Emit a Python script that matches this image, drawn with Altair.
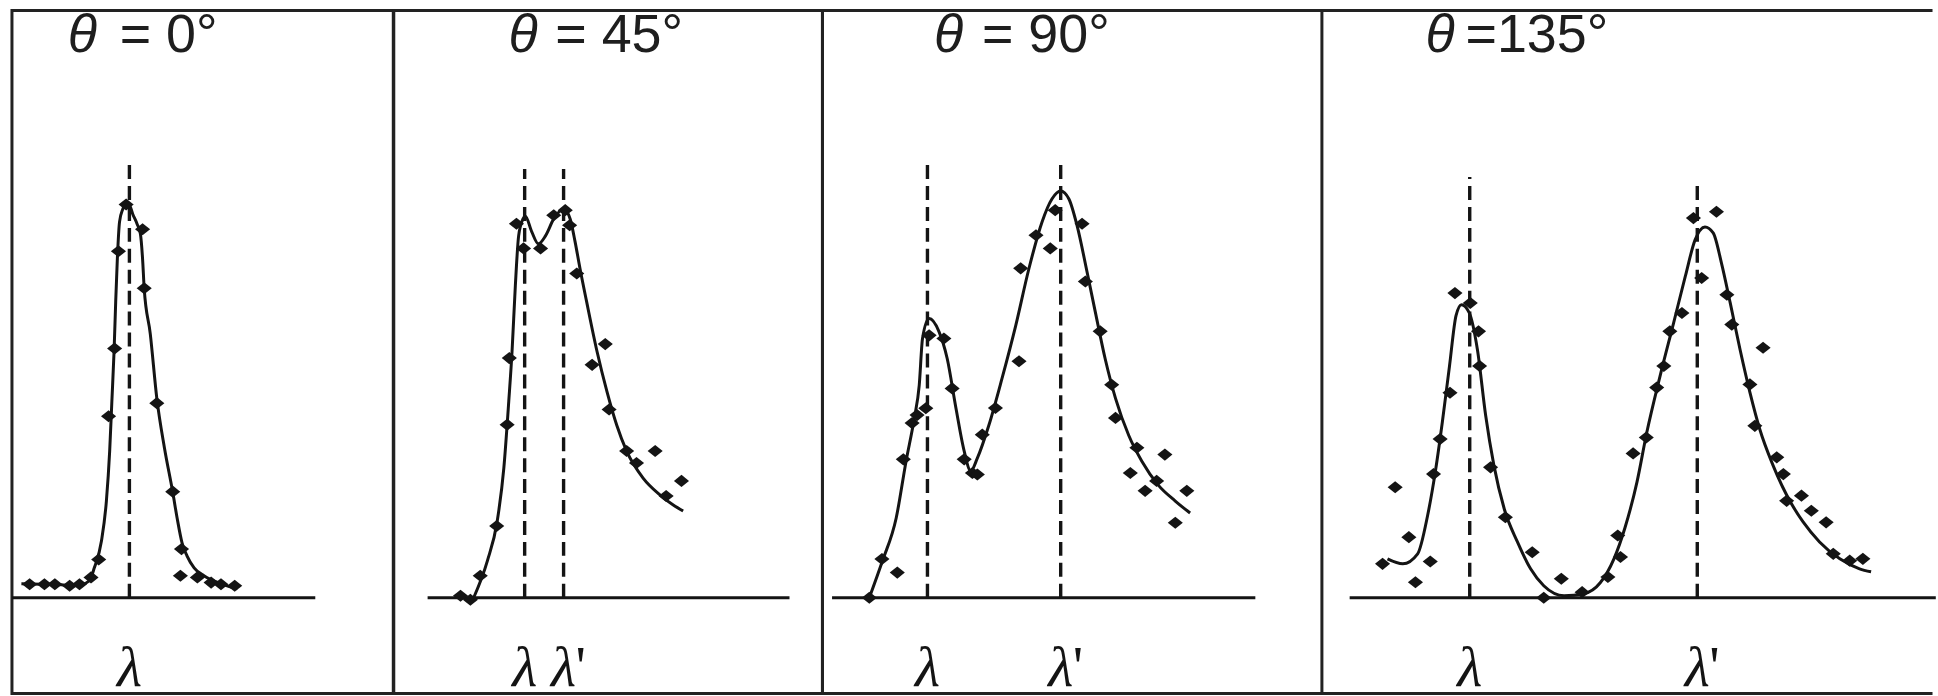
import altair as alt
import pandas as pd

# Compton scattering spectra: wavelength in pm, intensity in arbitrary counts
LAMBDA0 = 70.9           # incident Mo K-alpha line
PX_PER_PM = 55.0         # horizontal scale shared by every panel
Y_DOMAIN = [-24, 147.25]
PANEL_H = 685
INK = "#141414"

# ---- theta = 0 deg ----
p0_x = [69.08, 69.35, 69.54, 69.81, 69.99, 70.20, 70.34, 70.52, 70.63, 70.70, 70.84,
        71.14, 71.17, 71.40, 71.69, 71.83, 71.85, 72.14, 72.39, 72.57, 72.82]
p0_y = [3.4, 3.4, 3.4, 3.0, 3.4, 5.1, 9.6, 45.5, 62.5, 86.9, 98.6,
        92.4, 77.6, 48.8, 26.6, 5.5, 12.2, 5.1, 3.8, 3.4, 3.0]
f0_x = [68.93, 69.29, 69.66, 69.88, 70.02, 70.17, 70.26, 70.39, 70.48, 70.54, 70.58,
        70.62, 70.65, 70.68, 70.72, 70.78, 70.84, 70.90, 70.96, 71.04, 71.10, 71.14,
        71.17, 71.28, 71.40, 71.54, 71.69, 71.77, 71.86, 71.95, 72.08, 72.26, 72.57, 72.87]
f0_y = [3.5, 3.4, 3.25, 3.0, 3.25, 4.25, 7.5, 14.25, 24.25, 36.75, 49.25,
        61.75, 74.25, 85.0, 94.25, 97.5, 98.75, 98.5, 96.25, 93.75, 91.25, 85.0,
        77.5, 66.25, 50.0, 37.5, 26.5, 20.0, 13.75, 10.5, 7.5, 5.5, 3.5, 2.25]

# ---- theta = 45 deg ----
p45_x = [69.73, 69.91, 70.09, 70.39, 70.58, 70.62, 70.75, 70.88, 71.19, 71.43, 71.64,
         71.72, 71.85, 72.13, 72.37, 72.44, 72.76, 72.94, 73.28, 73.48, 73.76]
p45_y = [0.5, -0.5, 5.5, 18.0, 43.4, 60.1, 93.8, 87.6, 87.6, 95.9, 97.2,
         93.4, 81.3, 58.4, 63.6, 47.2, 36.8, 33.8, 36.8, 25.5, 29.3]
f45_x = [69.97, 70.22, 70.40, 70.52, 70.61, 70.67, 70.73, 70.79, 70.87, 70.91, 71.03,
         71.15, 71.28, 71.43, 71.61, 71.73, 71.82, 71.91, 72.03, 72.22, 72.40, 72.58,
         72.76, 73.06, 73.37, 73.61, 73.79]
f45_y = [0.0, 9.25, 19.25, 32.5, 49.25, 61.75, 78.25, 90.75, 95.0, 95.75, 91.75,
         88.75, 90.75, 95.0, 97.5, 95.0, 89.25, 82.5, 74.25, 61.75, 51.75, 43.25,
         36.75, 30.0, 25.75, 23.25, 21.75]

# ---- theta = 90 deg ----
p90_x = [69.84, 70.07, 70.35, 70.46, 70.62, 70.71, 70.87, 70.93, 71.20, 71.35, 71.57,
         71.72, 71.81, 71.90, 72.14, 72.57, 72.60, 72.88, 73.14, 73.23, 73.72, 73.78,
         74.05, 74.26, 74.33, 74.60, 74.72, 74.87, 75.08, 75.23, 75.42, 75.63]
p90_y = [0.0, 9.7, 6.3, 34.7, 43.8, 45.8, 47.5, 65.8, 65.0, 52.5, 34.7,
         31.3, 30.9, 40.9, 47.6, 59.3, 82.6, 90.9, 87.6, 97.2, 93.8, 79.3,
         66.8, 53.4, 45.1, 31.3, 37.6, 26.8, 29.3, 35.9, 18.8, 26.8]
f90_x = [69.84, 70.08, 70.33, 70.51, 70.66, 70.75, 70.81, 70.93, 71.11, 71.26, 71.42,
         71.57, 71.69, 71.81, 72.02, 72.26, 72.51, 72.75, 72.99, 73.17, 73.33, 73.48,
         73.63, 73.81, 73.96, 74.14, 74.33, 74.57, 74.81, 75.11, 75.42, 75.69]
f90_y = [0.0, 9.25, 20.0, 34.25, 45.0, 53.25, 65.0, 70.0, 66.75, 60.0, 47.5,
         36.75, 31.75, 35.0, 43.25, 55.0, 68.25, 82.5, 94.25, 100.0, 102.0, 100.0,
         93.25, 81.75, 71.75, 60.0, 50.0, 40.75, 34.25, 28.25, 24.25, 21.25]

# ---- theta = 135 deg ----
p135_x = [69.31, 69.54, 69.79, 69.91, 70.18, 70.24, 70.36, 70.54, 70.63, 70.91, 71.06,
          71.08, 71.28, 71.55, 72.04, 72.25, 72.57, 72.95, 73.42, 73.60, 73.65, 73.88,
          74.12, 74.31, 74.44, 74.55, 74.77, 74.98, 75.13, 75.40, 75.59, 75.68, 76.01,
          76.10, 76.25, 76.50, 76.62, 76.68, 76.95, 77.13, 77.40, 77.53, 77.83, 78.07]
p135_y = [8.5, 27.7, 15.2, 3.9, 9.1, 31.0, 39.8, 51.4, 76.4, 73.9, 66.8,
          58.1, 32.7, 20.2, 11.4, 0.0, 4.75, 1.4, 5.2, 15.6, 10.2, 36.2,
          40.2, 52.7, 58.1, 66.8, 71.4, 95.2, 80.2, 96.8, 76.0, 68.5, 53.5,
          43.1, 62.7, 35.2, 31.0, 24.3, 25.6, 21.8, 18.9, 11.0, 9.3, 9.75]
f135_x = [69.40, 69.68, 69.95, 70.13, 70.28, 70.40, 70.53, 70.65, 70.75, 70.89, 71.04,
          71.19, 71.34, 71.53, 71.77, 72.01, 72.25, 72.62, 72.98, 73.28, 73.53, 73.73,
          73.95, 74.13, 74.37, 74.62, 74.83, 75.01, 75.19, 75.34, 75.49, 75.65, 75.83,
          76.01, 76.19, 76.43, 76.68, 76.98, 77.28, 77.65, 78.01, 78.22]
f135_y = [9.75, 8.5, 11.0, 20.5, 32.25, 44.0, 58.0, 70.75, 73.5, 71.5, 62.25,
          45.75, 33.25, 22.25, 14.0, 7.25, 3.0, 0.5, 1.0, 3.75, 9.75, 17.5,
          29.0, 41.5, 55.5, 69.0, 80.5, 89.75, 93.0, 91.5, 84.0, 74.0, 62.25,
          51.5, 42.25, 33.25, 25.75, 19.0, 14.0, 9.75, 7.25, 6.5]

# line positions (incident and Compton-shifted) and dashed-line heights
line_pos = [[LAMBDA0], [LAMBDA0, 71.61], [LAMBDA0, 73.33], [LAMBDA0, 75.05]]
line_top = [[110.0], [107.5, 107.5], [108.5, 109.75], [105.5, 105.0]]
axis_span = [[68.76, 74.29], [69.13, 75.73], [69.16, 76.88], [68.71, 79.40]]

# panel layout: width in px, left edge of the wavelength window, title offsets
layout = [
    dict(width=382.5, x_lo=68.758, theta_dx=56, rest_dx=108, rest="= 0°"),
    dict(width=430, x_lo=68.513, theta_dx=115, rest_dx=162, rest="= 45°"),
    dict(width=501, x_lo=68.985, theta_dx=112, rest_dx=160, rest="= 90°"),
    dict(width=612.5, x_lo=68.204, theta_dx=104, rest_dx=144, rest="=135°"),
]
points = [(p0_x, p0_y), (p45_x, p45_y), (p90_x, p90_y), (p135_x, p135_y)]
fits = [(f0_x, f0_y), (f45_x, f45_y), (f90_x, f90_y), (f135_x, f135_y)]

TITLE_FONT = "Liberation Sans"
LABEL_FONT = "Liberation Serif"
TITLE_SIZE = 54
LABEL_SIZE = 58
TITLE_Y = 42
LABEL_Y = 678
DIAMOND = "M-1,0L0,-0.8L1,0L0,0.8Z"


def make_panel(i, last):
    lay = layout[i]
    lo = lay["x_lo"]
    w = lay["width"]
    xs = alt.Scale(domain=[lo, lo + w / PX_PER_PM], nice=False, zero=False)
    ys = alt.Scale(domain=Y_DOMAIN, nice=False, zero=False)

    def X(f):
        return alt.X(f, type="quantitative", scale=xs, axis=None)

    def Y(f):
        return alt.Y(f, type="quantitative", scale=ys, axis=None)

    pts = pd.DataFrame({"wl": points[i][0], "I": points[i][1]})
    fit = pd.DataFrame({"wl": fits[i][0], "I": fits[i][1]})
    span = pd.DataFrame({"a": [axis_span[i][0]], "b": [axis_span[i][1]], "z": [0.0]})
    lines = pd.DataFrame({
        "wl": line_pos[i],
        "top": line_top[i],
        "z": [0.0] * len(line_pos[i]),
        "shifted": [False] + [True] * (len(line_pos[i]) - 1),
    })

    baseline = alt.Chart(span).mark_rule(color=INK, strokeWidth=3).encode(
        x=X("a"), x2="b", y=Y("z"))
    dashed = alt.Chart(lines).mark_rule(
        color=INK, strokeWidth=3.4, strokeDash=[14, 7]).encode(
        x=X("wl"), y=Y("z"), y2="top")
    curve = alt.Chart(fit).mark_line(
        color=INK, strokeWidth=3, interpolate="monotone").encode(
        x=X("wl"), y=Y("I"))
    dots = alt.Chart(pts).mark_point(
        shape=DIAMOND, filled=True, size=230, color=INK, opacity=1).encode(
        x=X("wl"), y=Y("I"))
    lam = alt.Chart(lines).mark_text(
        font=LABEL_FONT, fontSize=LABEL_SIZE, fontStyle="italic", color=INK,
        baseline="alphabetic", align="center").encode(
        x=X("wl"), y=alt.value(LABEL_Y), text=alt.value("λ"))
    prime = alt.Chart(lines).transform_filter("datum.shifted").mark_text(
        font=LABEL_FONT, fontSize=LABEL_SIZE, color=INK, baseline="alphabetic",
        align="left", dx=12).encode(x=X("wl"), y=alt.value(LABEL_Y), text=alt.value("'"))

    head = pd.DataFrame({"t": ["θ"], "r": [lay["rest"]]})
    theta = alt.Chart(head).mark_text(
        font=TITLE_FONT, fontSize=TITLE_SIZE, fontStyle="italic", color="#1e1e1e",
        align="left", baseline="alphabetic").encode(
        x=alt.value(lay["theta_dx"]), y=alt.value(TITLE_Y), text="t:N")
    rest = alt.Chart(head).mark_text(
        font=TITLE_FONT, fontSize=TITLE_SIZE, color="#1e1e1e",
        align="left", baseline="alphabetic").encode(
        x=alt.value(lay["rest_dx"]), y=alt.value(TITLE_Y), text="r:N")

    layers = [baseline, dashed, curve, dots, lam, prime, theta, rest]
    props = dict(width=w, height=PANEL_H)
    if last:
        # open-ended final panel: only top and bottom frame lines
        frame = pd.DataFrame({"k": [0]})
        top = alt.Chart(frame).mark_rule(color="#222", strokeWidth=3).encode(
            x=alt.value(0), x2=alt.value(w), y=alt.value(0))
        bottom = alt.Chart(frame).mark_rule(color="#222", strokeWidth=3).encode(
            x=alt.value(0), x2=alt.value(w), y=alt.value(PANEL_H))
        layers += [top, bottom]
        props["view"] = alt.ViewBackground(strokeOpacity=0)
    return alt.layer(*layers).properties(**props)


panels = [make_panel(i, i == 3) for i in range(4)]

chart = alt.hconcat(*panels, spacing=0, bounds="flush").configure(
    padding={"left": 9, "top": 6.5, "right": 0, "bottom": 1.5},
    background="white",
).configure_view(stroke="#222", strokeWidth=3)

chart.save("out.html", embed_options={"renderer": "svg", "actions": False})
